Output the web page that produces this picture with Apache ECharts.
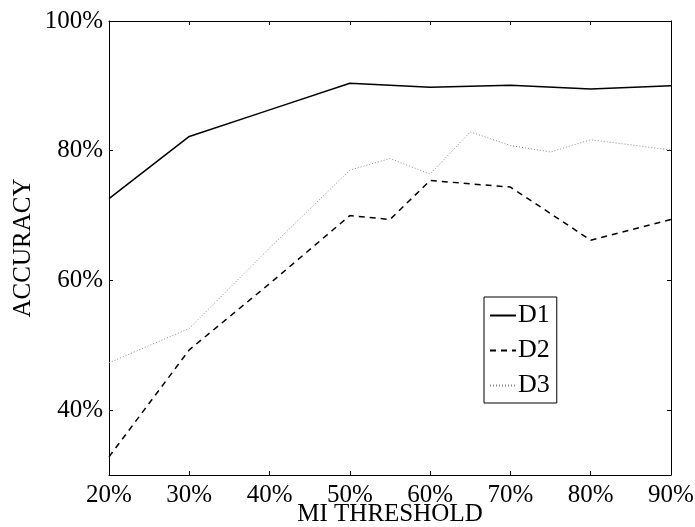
<!DOCTYPE html>
<html>
<head>
<meta charset="utf-8">
<script src="https://cdn.jsdelivr.net/npm/echarts@6/dist/echarts.min.js"></script>
<style>
  html, body { margin: 0; padding: 0; background: #fff; }
  #chart { width: 695px; height: 527px; }
</style>
</head>
<body>
<div id="chart"></div>
<script>
// MI threshold (%) where each curve has a point
var d1X = [20, 30, 40, 50, 60, 70, 80, 90];
var d1Y = [72.6, 82.2, 86.3, 90.4, 89.8, 90.1, 89.5, 90.0];

var d2X = [20, 30, 40, 50, 55, 60, 70, 80, 90];
var d2Y = [32.8, 49.3, 59.5, 70.0, 69.4, 75.4, 74.4, 66.2, 69.4];

var d3X = [20, 30, 40, 50, 55, 60, 65, 70, 75, 80, 90];
var d3Y = [47.3, 52.6, 65.0, 77.0, 78.8, 76.4, 82.9, 80.8, 79.8, 81.7, 80.1];

var xTicks = [20, 30, 40, 50, 60, 70, 80, 90];
var yTicks = [40, 60, 80, 100];

var pairs = function (xs, ys) {
    var out = [];
    for (var i = 0; i < xs.length; i++) {
        out.push([xs[i], ys[i]]);
    }
    return out;
};

var font = '"Liberation Serif", "Times New Roman", Times, serif';
var pct = function (v) { return v + '%'; };

var chart = echarts.init(document.getElementById('chart'));

var baseX = {
    type: 'value', min: 20, max: 90, interval: 10,
    axisLine: {show: true, onZero: false, lineStyle: {color: '#000', width: 1}},
    axisTick: {show: true, inside: true, length: 4, lineStyle: {color: '#000'}, customValues: xTicks},
    splitLine: {show: false}
};
var baseY = {
    type: 'value', min: 30, max: 100, interval: 10,
    axisLine: {show: true, onZero: false, lineStyle: {color: '#000', width: 1}},
    axisTick: {show: true, inside: true, length: 4, lineStyle: {color: '#000'}, customValues: yTicks},
    splitLine: {show: false}
};

var option = {
    animation: false,
    grid: {left: 109, right: 24, top: 21, bottom: 52, outerBoundsMode: 'none'},
    legend: {
        orient: 'vertical',
        left: 484, top: 297,
        padding: [5, 7, 4, 5],
        itemGap: 8,
        itemWidth: 26, itemHeight: 14,
        borderColor: '#000', borderWidth: 1,
        itemStyle: {color: 'rgba(0,0,0,0)', borderWidth: 0},
        textStyle: {fontFamily: font, fontSize: 26, color: '#000', lineHeight: 27, padding: [0, 0, 0, -3]},
        data: ['D1', 'D2', 'D3']
    },
    xAxis: [
        Object.assign({}, baseX, {
            position: 'bottom',
            name: 'MI THRESHOLD', nameLocation: 'middle', nameGap: 27, nameMoveOverlap: false,
            nameTextStyle: {fontFamily: font, fontSize: 25, color: '#000'},
            axisLabel: {show: true, margin: 8, fontFamily: font, fontSize: 25, color: '#000',
                formatter: pct, customValues: xTicks}
        }),
        Object.assign({}, baseX, {position: 'top', axisLabel: {show: false}})
    ],
    yAxis: [
        Object.assign({}, baseY, {
            position: 'left',
            name: 'ACCURACY', nameLocation: 'middle', nameGap: 73, nameMoveOverlap: false,
            nameTextStyle: {fontFamily: font, fontSize: 25, color: '#000'},
            axisLabel: {show: true, margin: 6, fontFamily: font, fontSize: 25, color: '#000',
                formatter: pct, customValues: yTicks}
        }),
        Object.assign({}, baseY, {position: 'right', axisLabel: {show: false}})
    ],
    series: [
        {
            name: 'D1', type: 'line', symbol: 'none',
            data: pairs(d1X, d1Y),
            lineStyle: {color: '#000', width: 1.5, type: 'solid'},
            itemStyle: {color: '#000'}
        },
        {
            name: 'D2', type: 'line', symbol: 'none',
            data: pairs(d2X, d2Y),
            lineStyle: {color: '#000', width: 1.5, type: [6, 5]},
            itemStyle: {color: '#000'}
        },
        {
            name: 'D3', type: 'line', symbol: 'none',
            data: pairs(d3X, d3Y),
            lineStyle: {color: '#888', width: 1, type: [1, 2]},
            itemStyle: {color: '#888'}
        }
    ]
};

chart.setOption(option);
</script>
</body>
</html>
